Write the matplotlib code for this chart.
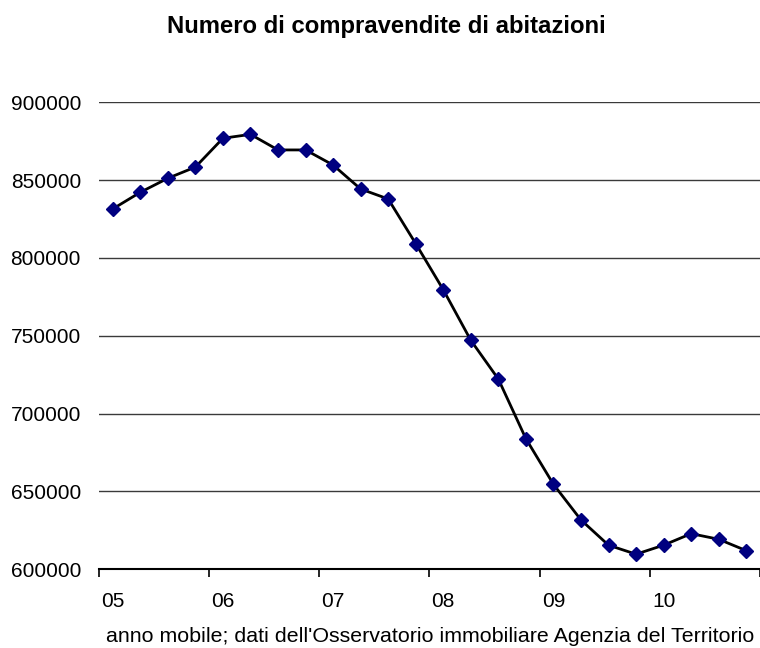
import matplotlib
matplotlib.use('Agg')
import matplotlib.pyplot as plt
import numpy as np

plt.rcParams['font.family'] = ['Liberation Sans', 'DejaVu Sans']

# quarterly rolling-year sales, 2005 Q1 .. 2010 Q4
years = ['05', '06', '07', '08', '09', '10']
sales = [831500, 842200, 851200, 858400,
         876900, 879400, 869400, 869400,
         859700, 844300, 837900, 809200,
         779600, 747100, 722200, 683900,
         654600, 631700, 615500, 609700,
         615500, 622900, 619300, 612000]

fig = plt.figure(figsize=(7.6, 6.48), dpi=100)
ax = fig.add_axes([99 / 760, 1 - 569.3 / 648, 661 / 760, (569.3 - 102.3) / 648])

x = np.arange(len(sales))
ax.plot(x, sales, color='black', lw=2.0, marker='D', ms=7.2,
        mfc='#000080', mec='#000080', zorder=3, clip_on=False)

ax.set_ylim(600000, 900000)
ax.set_yticks(np.arange(600000, 900001, 50000))
ax.set_xlim(-0.5, -0.5 + 661 / 27.6)
ax.yaxis.grid(True, color='#3a3a3a', lw=1.0)
ax.set_axisbelow(True)

# labels sit under the first quarter of each year, ticks between years
ax.set_xticks(np.arange(0, len(sales), 4))
ax.set_xticklabels(years)
ax.set_xticks(np.arange(-0.5, len(sales), 4), minor=True)
ax.tick_params(axis='x', which='major', length=0, pad=16, labelsize=15)
ax.tick_params(axis='x', which='minor', length=6, width=1.2, color='black')
ax.tick_params(axis='y', length=0, pad=13, labelsize=15)

for side in ['top', 'right', 'left']:
    ax.spines[side].set_visible(False)
ax.spines['bottom'].set_color('black')
ax.spines['bottom'].set_linewidth(1.5)

fig.text(386 / 760, 1 - 27 / 648, 'Numero di compravendite di abitazioni',
         ha='center', va='center', fontsize=17.2, fontweight='bold')
fig.text(430 / 760, 1 - 637 / 648,
         "anno mobile; dati dell'Osservatorio immobiliare Agenzia del Territorio",
         ha='center', va='center', fontsize=15.4)

fig.savefig('out.png', dpi=100)
